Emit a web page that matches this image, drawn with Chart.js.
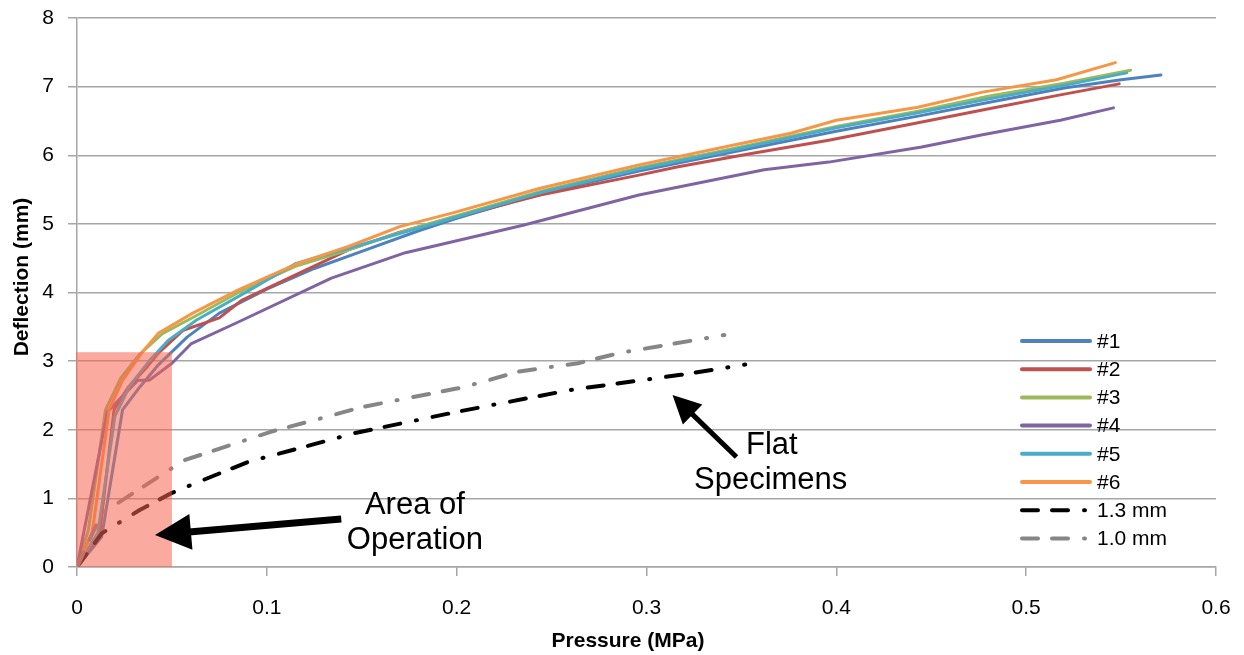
<!DOCTYPE html>
<html><head><meta charset="utf-8">
<script src="https://cdn.jsdelivr.net/npm/chart.js@4/dist/chart.umd.min.js"></script>
<style>html,body{margin:0;padding:0;background:#fff}</style>
</head><body>
<canvas id="c" width="1244" height="655"></canvas>
<script>
// ---------- data (Pressure MPa, Deflection mm) ----------
const seriesNames = ['#1', '#2', '#3', '#4', '#5', '#6', '1.3 mm', '1.0 mm'];
const s1 = [[0,0],[0.013,0.44],[0.024,2.29],[0.033,2.62],[0.043,2.95],[0.058,3.35],[0.075,3.7],[0.1,4.05],[0.125,4.35],[0.15,4.6],[0.18,4.9],[0.2,5.08],[0.245,5.45],[0.296,5.77],[0.346,6.05],[0.4,6.35],[0.443,6.57],[0.48,6.77],[0.52,6.98],[0.55,7.1],[0.571,7.17]];
const s2 = [[0,0],[0.012,0.5],[0.0195,2.29],[0.027,2.62],[0.037,2.92],[0.043,3.12],[0.056,3.45],[0.075,3.63],[0.087,3.89],[0.143,4.62],[0.17,4.88],[0.198,5.09],[0.244,5.42],[0.296,5.71],[0.316,5.83],[0.356,6.03],[0.396,6.22],[0.437,6.44],[0.477,6.66],[0.518,6.88],[0.549,7.04]];
const s3 = [[0,0],[0.006,0.54],[0.015,2.29],[0.023,2.75],[0.033,3.1],[0.045,3.4],[0.062,3.65],[0.085,4.0],[0.115,4.38],[0.143,4.62],[0.175,4.92],[0.2,5.12],[0.245,5.48],[0.296,5.82],[0.346,6.1],[0.4,6.42],[0.443,6.64],[0.48,6.86],[0.52,7.05],[0.555,7.24]];
const s4 = [[0,0],[0.016,2.26],[0.032,2.72],[0.038,2.72],[0.05,2.97],[0.06,3.25],[0.085,3.57],[0.134,4.21],[0.173,4.58],[0.235,4.98],[0.296,5.42],[0.362,5.79],[0.396,5.9],[0.445,6.12],[0.477,6.3],[0.518,6.51],[0.546,6.69]];
const s5 = [[0,0],[0.011,0.5],[0.02,2.2],[0.028,2.65],[0.038,3.0],[0.048,3.3],[0.063,3.6],[0.09,4.02],[0.115,4.42],[0.14,4.62],[0.175,4.9],[0.2,5.1],[0.245,5.46],[0.296,5.8],[0.346,6.08],[0.4,6.4],[0.443,6.62],[0.48,6.82],[0.52,7.02],[0.553,7.2]];
const s6 = [[0,0],[0.008,0.5],[0.017,2.3],[0.024,2.72],[0.034,3.12],[0.043,3.41],[0.061,3.7],[0.085,4.04],[0.117,4.43],[0.143,4.67],[0.17,4.96],[0.198,5.16],[0.244,5.52],[0.296,5.86],[0.346,6.15],[0.376,6.32],[0.4,6.51],[0.443,6.7],[0.477,6.92],[0.516,7.1],[0.547,7.35]];
const flat13 = [[0,0],[0.013,0.49],[0.033,0.83],[0.05,1.08],[0.064,1.24],[0.09,1.53],[0.133,1.85],[0.146,1.95],[0.2,2.26],[0.26,2.58],[0.318,2.8],[0.352,2.95]];
const flat10 = [[0,0],[0.013,0.78],[0.05,1.44],[0.057,1.56],[0.102,1.97],[0.133,2.2],[0.15,2.33],[0.2,2.6],[0.2035,2.62],[0.233,2.85],[0.264,2.97],[0.286,3.12],[0.341,3.38]];
const xTickLabels = ['0', '0.1', '0.2', '0.3', '0.4', '0.5', '0.6'];
const yTickLabels = ['0', '1', '2', '3', '4', '5', '6', '7', '8'];
// annotation anchors in data units
const areaBox = [[0, 0], [0.05, 3.13]];
const arrowArea = [[0.1392, 0.70], [0.0411, 0.466]];
const arrowFlat = [[0.3474, 1.603], [0.3137, 2.506]];
const areaText = [['Area of', 0.178, 0.903], ['Operation', 0.178, 0.393]];
const flatText = [['Flat', 0.366, 1.778], ['Specimens', 0.3654, 1.268]];

const colors = ['#4F81BD', '#C0504D', '#9BBB59', '#8064A2', '#4BACC6', '#F79646', '#000000', '#868686'];
const allSeries = [s1, s2, s3, s4, s5, s6, flat13, flat10];
const DASH = [16, 14, 16, 16, 1, 16];

const datasets = allSeries.map((s, i) => ({
  label: seriesNames[i],
  data: s.map(p => ({x: p[0], y: p[1]})),
  showLine: true,
  borderColor: colors[i],
  backgroundColor: colors[i],
  borderWidth: i < 6 ? 3 : 4,
  borderDash: i < 6 ? [] : DASH,
  borderCapStyle: 'round',
  borderJoinStyle: 'round',
  pointRadius: 0,
  tension: 0,
  order: 20 - i
}));

const FONT = '"Liberation Sans", Arial, sans-serif';

function arrow(ctx, x, y, pts, lw, hl, hw) {
  const x0 = x.getPixelForValue(pts[0][0]), y0 = y.getPixelForValue(pts[0][1]);
  const x1 = x.getPixelForValue(pts[1][0]), y1 = y.getPixelForValue(pts[1][1]);
  const ang = Math.atan2(y1 - y0, x1 - x0);
  const bx = x1 - hl * Math.cos(ang), by = y1 - hl * Math.sin(ang);
  ctx.strokeStyle = '#000'; ctx.fillStyle = '#000';
  ctx.lineWidth = lw; ctx.lineCap = 'butt';
  ctx.beginPath(); ctx.moveTo(x0, y0); ctx.lineTo(bx + Math.cos(ang) * 2, by + Math.sin(ang) * 2); ctx.stroke();
  ctx.beginPath();
  ctx.moveTo(x1, y1);
  ctx.lineTo(bx + hw * Math.sin(ang), by - hw * Math.cos(ang));
  ctx.lineTo(bx - hw * Math.sin(ang), by + hw * Math.cos(ang));
  ctx.closePath(); ctx.fill();
}

const annoPlugin = {
  id: 'anno',
  afterDatasetsDraw(chart) {
    const {ctx, scales: {x, y}} = chart;
    ctx.save();
    const l = x.getPixelForValue(areaBox[0][0]) - 1, r = x.getPixelForValue(areaBox[1][0]);
    const t = y.getPixelForValue(areaBox[1][1]), b = y.getPixelForValue(areaBox[0][1]);
    ctx.fillStyle = 'rgba(246,100,79,0.55)';
    ctx.fillRect(l, t, r - l, b - t);
    arrow(ctx, x, y, arrowArea, 7, 36, 18);
    arrow(ctx, x, y, arrowFlat, 5, 28, 14);
    ctx.fillStyle = '#000';
    ctx.font = '31px ' + FONT;
    ctx.textAlign = 'center'; ctx.textBaseline = 'middle';
    [...areaText, ...flatText].forEach(([s, vx, vy]) => {
      ctx.fillText(s, x.getPixelForValue(vx), y.getPixelForValue(vy));
    });
    ctx.restore();
  },
  afterDraw(chart) {
    const {ctx, chartArea: ca} = chart;
    ctx.save();
    // legend
    const lx0 = ca.right - 194, lx1 = lx0 + 68;
    ctx.font = '21px ' + FONT;
    ctx.textAlign = 'left'; ctx.textBaseline = 'middle';
    chart.data.datasets.forEach((ds, i) => {
      const yy = ca.top + 323 + i * 28.2;
      ctx.strokeStyle = ds.borderColor;
      ctx.lineWidth = 4;
      ctx.lineCap = 'round';
      ctx.setLineDash(ds.borderDash);
      ctx.beginPath(); ctx.moveTo(lx0, yy); ctx.lineTo(lx1, yy); ctx.stroke();
      ctx.setLineDash([]);
      ctx.fillStyle = '#000';
      ctx.fillText(ds.label, lx1 + 7, yy + 1);
    });
    // axis titles
    ctx.font = 'bold 21px ' + FONT;
    ctx.textAlign = 'center'; ctx.textBaseline = 'middle';
    ctx.fillText('Pressure (MPa)', 628, 641);
    ctx.translate(22, 277);
    ctx.rotate(-Math.PI / 2);
    ctx.fillText('Deflection (mm)', 0, 0);
    ctx.restore();
  }
};

new Chart(document.getElementById('c'), {
  type: 'scatter',
  data: {datasets},
  options: {
    responsive: false,
    animation: false,
    devicePixelRatio: 1,
    layout: {padding: {top: 18, right: 28, left: 0, bottom: 0}},
    plugins: {legend: {display: false}, tooltip: {enabled: false}, title: {display: false}},
    scales: {
      x: {
        type: 'linear', min: 0, max: 0.6,
        afterFit: s => { s.height = 88; s.paddingLeft = 0; s.paddingRight = 0; },
        afterBuildTicks: s => { s.ticks = xTickLabels.map(v => ({value: parseFloat(v)})); },
        ticks: {callback: (v, i) => xTickLabels[i], font: {size: 21, family: FONT}, color: '#000', padding: 20, maxRotation: 0, autoSkip: false},
        grid: {drawOnChartArea: false, drawTicks: true, tickLength: 9, color: '#A6A6A6', lineWidth: 1.5},
        border: {display: true, color: '#A6A6A6', width: 1.5}
      },
      y: {
        type: 'linear', min: 0, max: 8,
        afterFit: s => { s.width = 77; s.paddingTop = 0; s.paddingBottom = 0; },
        afterBuildTicks: s => { s.ticks = yTickLabels.map(v => ({value: parseFloat(v)})); },
        ticks: {callback: (v, i) => yTickLabels[i], font: {size: 21, family: FONT}, color: '#000', padding: 14, autoSkip: false},
        grid: {drawOnChartArea: true, drawTicks: true, tickLength: 9, color: '#A6A6A6', lineWidth: 1.5},
        border: {display: true, color: '#A6A6A6', width: 1.5}
      }
    }
  },
  plugins: [annoPlugin]
});
</script>
</body></html>
